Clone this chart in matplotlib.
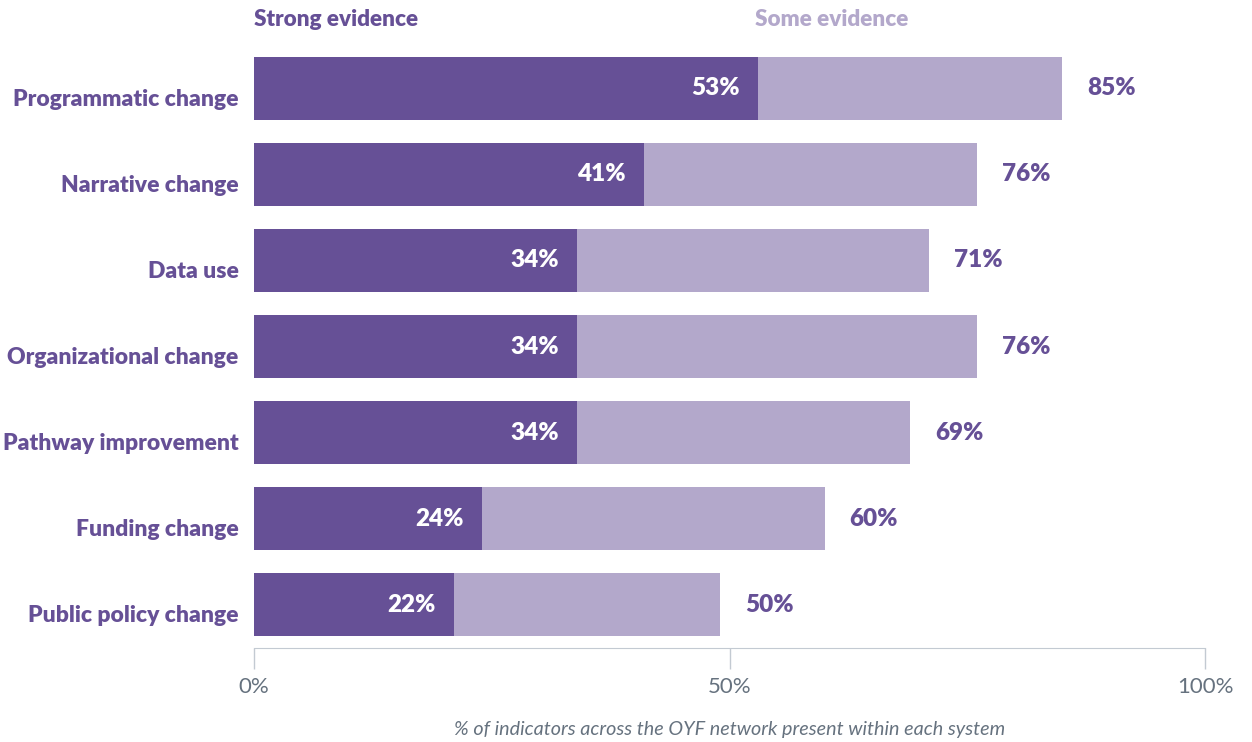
import matplotlib
matplotlib.use('Agg')
import matplotlib.pyplot as plt
from matplotlib.transforms import ScaledTranslation
import numpy as np

categories = ['Programmatic change', 'Narrative change', 'Data use', 'Organizational change',
              'Pathway improvement', 'Funding change', 'Public policy change']
strong = [53, 41, 34, 34, 34, 24, 21]
total = [85, 76, 71, 76, 69, 60, 49]
strong_labels = ['53%', '41%', '34%', '34%', '34%', '24%', '22%']
total_labels = ['85%', '76%', '71%', '76%', '69%', '60%', '50%']
xticks = [0, 50, 100]
xtick_labels = ['0%', '50%', '100%']

dark = '#665096'
light = '#b3a8cb'
grey = '#66727f'

plt.rcParams['font.family'] = ['Lato', 'DejaVu Sans']

fig = plt.figure(figsize=(12.52, 7.42), dpi=100)
ax = fig.add_axes([254 / 1252, 94 / 742, 951 / 1252, 603 / 742])

y = np.arange(len(categories))
ax.barh(y, total, height=0.73, color=light)
ax.barh(y, strong, height=0.73, color=dark)

for i in range(len(categories)):
    ax.annotate(strong_labels[i], (strong[i], y[i]), xytext=(-13, 0), textcoords='offset points',
                ha='right', va='center', color='white', fontsize=17.5, fontweight='heavy')
    ax.annotate(total_labels[i], (total[i], y[i]), xytext=(18, 0), textcoords='offset points',
                ha='left', va='center', color=dark, fontsize=17.5, fontweight='heavy')

ax.set_xlim(0, 100)
ax.set_ylim(6.5, -0.5)
ax.set_yticks(y)
ax.set_yticklabels(categories, fontsize=16.5, fontweight='heavy', color=dark)
ax.tick_params(axis='y', length=0, pad=11)
shift = ScaledTranslation(0, -0.09, fig.dpi_scale_trans)
for lab in ax.get_yticklabels():
    lab.set_transform(lab.get_transform() + shift)
ax.set_xticks(xticks)
ax.set_xticklabels(xtick_labels, fontsize=16, color=grey)
ax.tick_params(axis='x', length=15, width=1, color='#c3cad2', pad=6)
for s in ['top', 'right', 'left']:
    ax.spines[s].set_visible(False)
ax.spines['bottom'].set_color('#c3cad2')
ax.set_xlabel('% of indicators across the OYF network present within each system',
              fontsize=14.2, fontstyle='italic', color=grey, labelpad=17)

fig.text(254 / 1252, 1 - 20 / 742, 'Strong evidence', ha='left', va='center',
         fontsize=16.2, fontweight='heavy', color=dark)
fig.text(755 / 1252, 1 - 20 / 742, 'Some evidence', ha='left', va='center',
         fontsize=16.2, fontweight='heavy', color=light)

fig.savefig('out.png', dpi=100)
